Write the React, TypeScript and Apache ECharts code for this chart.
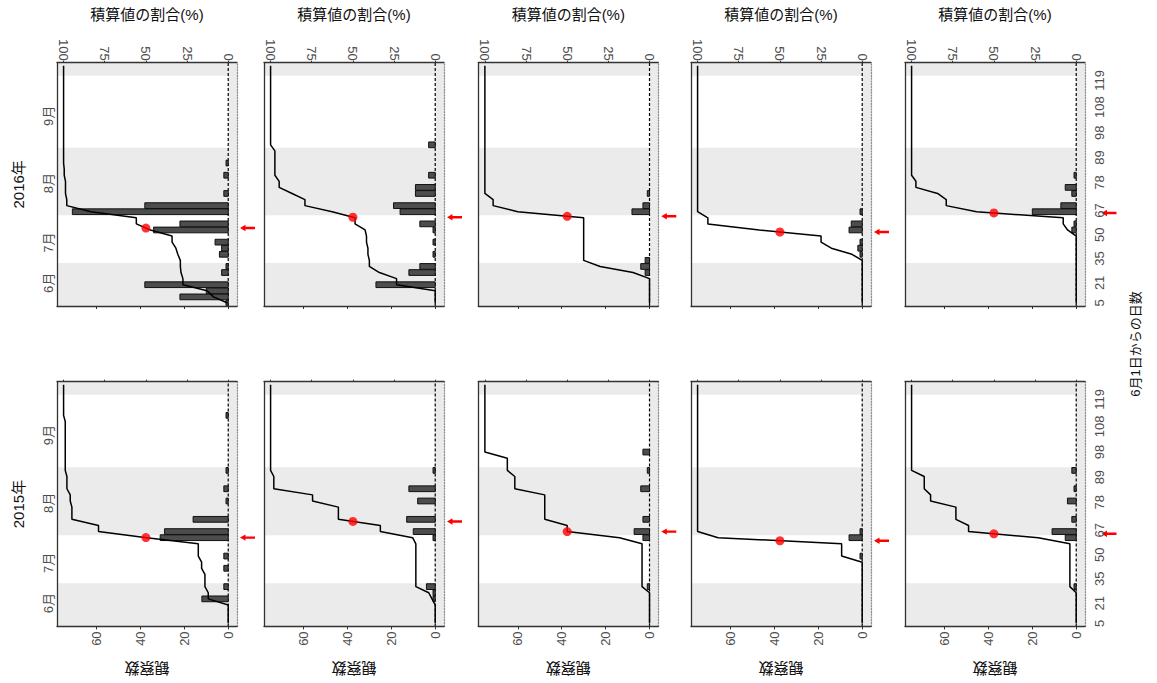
import { useEffect, useRef } from 'react';
import * as echarts from 'echarts';

// Survey sessions (index along the season) and their labels
const SESSION_COUNT = 40;
const dayTickSessions = [1, 4.3, 8.3, 12.2, 16.2, 20.8, 24.9, 29, 33.2, 37.6];
const dayTickLabels = ['5', '21', '35', '50', '67', '78', '89', '98', '108', '119'];
const monthLabels = ['6月', '7月', '8月', '9月'];
const monthSessions = [4.3, 10.9, 20.7, 31.75];
// July and September are drawn on white, June / August / October stay grey
const whiteBands = [
  [7.55, 15.4],
  [26.5, 38.35],
];
const countTicks = [0, 20, 40, 60];
const pctTicks = [0, 25, 50, 75, 100];
const years = ['2016年', '2015年'];

// Observed counts per session (sessions 1..40), five sites per year
const obs2016 = [
  [1, 22, 10, 38, 0, 3, 1, 0, 4, 3, 6, 0, 34, 22, 0, 71, 38, 0, 2, 0, 0, 2, 0, 1, 0, 0, 0, 0, 0, 0, 0, 0, 0, 0, 0, 0, 0, 0, 0, 0],
  [0, 0, 0, 27, 0, 12, 7, 0, 1, 0, 1, 0, 1, 7, 0, 16, 19, 0, 9, 9, 0, 3, 0, 0, 0, 0, 3, 0, 0, 0, 0, 0, 0, 0, 0, 0, 0, 0, 0, 0],
  [0, 0, 0, 0, 0, 2, 4, 2, 0, 0, 0, 0, 0, 0, 0, 8, 3, 0, 1, 0, 0, 0, 0, 0, 0, 0, 0, 0, 0, 0, 0, 0, 0, 0, 0, 0, 0, 0, 0, 0],
  [0, 0, 0, 0, 0, 0, 0, 0, 1, 2, 1, 0, 6, 5, 0, 1, 0, 0, 0, 0, 0, 0, 0, 0, 0, 0, 0, 0, 0, 0, 0, 0, 0, 0, 0, 0, 0, 0, 0, 0],
  [0, 0, 0, 0, 0, 0, 0, 0, 0, 0, 0, 0, 2, 1, 0, 20, 7, 0, 2, 5, 0, 1, 0, 0, 0, 0, 0, 0, 0, 0, 0, 0, 0, 0, 0, 0, 0, 0, 0, 0],
];
const obs2015 = [
  [0, 0, 0, 0, 12, 0, 2, 0, 0, 2, 0, 2, 0, 0, 31, 29, 0, 16, 0, 0, 1, 0, 2, 0, 0, 1, 0, 0, 0, 0, 0, 0, 0, 0, 1, 0, 0, 0, 0, 0],
  [0, 0, 0, 0, 1, 1, 4, 0, 0, 0, 0, 0, 0, 0, 1, 10, 0, 13, 0, 0, 8, 0, 12, 0, 0, 1, 0, 0, 0, 0, 0, 0, 0, 0, 0, 0, 0, 0, 0, 0],
  [0, 0, 0, 0, 0, 0, 1, 0, 0, 0, 0, 0, 0, 0, 3, 7, 0, 3, 0, 0, 0, 0, 4, 0, 0, 1, 0, 0, 3, 0, 0, 0, 0, 0, 0, 0, 0, 0, 0, 0],
  [0, 0, 0, 0, 0, 0, 0, 0, 0, 0, 0, 1, 0, 0, 6, 1, 0, 0, 0, 0, 0, 0, 0, 0, 0, 0, 0, 0, 0, 0, 0, 0, 0, 0, 0, 0, 0, 0, 0, 0],
  [0, 0, 0, 0, 0, 0, 1, 0, 0, 0, 0, 0, 0, 0, 5, 11, 0, 2, 0, 0, 4, 0, 1, 0, 0, 2, 0, 0, 0, 0, 0, 0, 0, 0, 0, 0, 0, 0, 0, 0],
];

// Layout
const FONT = '"Liberation Sans", "Noto Sans CJK JP", sans-serif';
const colLeft = [57, 264, 478.3, 691, 905];
const panelW = 180;
const rowTop = [62.7, 381.7];
const rowH = [243.3, 244.7];
const arrowGap = [3, 3, 3, 3, 16.5];

// Count axis and cumulative-percent axis share one scale: 75 obs = 100 %
const COUNT_MIN = -4;
const COUNT_MAX = 78;
const PCT_PER_COUNT = 100 / 75;

function cumulative(counts: number[]): number[][] {
  const total = counts.reduce((a, b) => a + b, 0);
  let run = 0;
  return counts.map((v, i) => {
    run += v;
    return [(run / total) * 100, i + 1];
  });
}

function halfwaySession(cum: number[][]): number {
  for (let i = 0; i < cum.length; i++) {
    if (cum[i][0] >= 50) {
      if (i === 0) return cum[0][1];
      const [p0, s0] = cum[i - 1];
      const [p1, s1] = cum[i];
      return s0 + ((50 - p0) / (p1 - p0)) * (s1 - s0);
    }
  }
  return cum[cum.length - 1][1];
}

function labelFor(values: number[], labels: string[]) {
  return (v: number) => {
    const i = values.findIndex((m) => Math.abs(m - v) < 1e-6);
    return i >= 0 ? labels[i] : '';
  };
}

function buildOption() {
  const grid: any[] = [];
  const xAxis: any[] = [];
  const yAxis: any[] = [];
  const series: any[] = [];
  const tickColor = '#333333';
  const labelColor = '#4d4d4d';
  const AXIS_Z = 6;

  [obs2016, obs2015].forEach((yearData, r) => {
    yearData.forEach((counts, c) => {
      const g = r * 5 + c;
      grid.push({
        left: colLeft[c],
        top: rowTop[r],
        width: panelW,
        height: rowH[r],
        show: true,
        backgroundColor: '#ebebeb',
        borderWidth: 0,
      });

      // counts axis (drawn along the bottom edge)
      xAxis.push({
        type: 'value',
        gridIndex: g,
        z: AXIS_Z,
        position: 'bottom',
        inverse: true,
        min: COUNT_MIN,
        max: COUNT_MAX,
        axisLine: { show: true, onZero: false, lineStyle: { color: tickColor, width: 1.3 } },
        axisTick: { show: true, customValues: countTicks, length: 3, lineStyle: { color: tickColor } },
        axisLabel: {
          show: r === 1,
          customValues: countTicks,
          rotate: 90,
          margin: 5,
          color: labelColor,
          fontSize: 13,
          fontFamily: FONT,
        },
        splitLine: { show: false },
        name: r === 1 ? '観察数' : '',
        nameLocation: 'middle',
        nameRotate: 180,
        nameGap: 35,
        nameTextStyle: { fontSize: 15, color: '#111', fontFamily: FONT },
      });
      // cumulative share axis (top edge)
      xAxis.push({
        type: 'value',
        gridIndex: g,
        z: AXIS_Z,
        position: 'top',
        inverse: true,
        min: COUNT_MIN * PCT_PER_COUNT,
        max: COUNT_MAX * PCT_PER_COUNT,
        axisLine: { show: true, onZero: false, lineStyle: { color: tickColor, width: 1.3 } },
        axisTick: { show: true, customValues: pctTicks, length: 2, lineStyle: { color: tickColor } },
        axisLabel: {
          show: r === 0,
          customValues: pctTicks,
          rotate: 90,
          margin: 2,
          color: labelColor,
          fontSize: 13,
          fontFamily: FONT,
        },
        splitLine: { show: false },
        name: r === 0 ? '積算値の割合(%)' : '',
        nameLocation: 'middle',
        nameGap: 41,
        nameTextStyle: { fontSize: 15, color: '#111', fontFamily: FONT },
      });
      // session axis, left edge: month labels
      yAxis.push({
        type: 'value',
        gridIndex: g,
        z: AXIS_Z,
        position: 'left',
        min: 0.5,
        max: SESSION_COUNT + 0.5,
        axisLine: { show: true, onZero: false, lineStyle: { color: tickColor, width: 1.3 } },
        axisTick: { show: false },
        axisLabel: {
          show: c === 0,
          customValues: monthSessions,
          rotate: 90,
          margin: 2,
          color: labelColor,
          fontSize: 13,
          fontFamily: FONT,
          formatter: labelFor(monthSessions, monthLabels),
        },
        splitLine: { show: false },
        name: c === 0 ? years[r] : '',
        nameLocation: 'middle',
        nameRotate: 90,
        nameGap: 31,
        nameTextStyle: { fontSize: 15, color: '#111', fontFamily: FONT },
      });
      // session axis, right edge: day labels
      yAxis.push({
        type: 'value',
        gridIndex: g,
        z: AXIS_Z,
        position: 'right',
        min: 0.5,
        max: SESSION_COUNT + 0.5,
        axisLine: { show: true, onZero: false, lineStyle: { color: '#8f8f8f', width: 1.3, type: [1.2, 1.6] } },
        axisTick: { show: false },
        axisLabel: {
          show: c === 4,
          customValues: dayTickSessions,
          rotate: 90,
          margin: 8,
          color: labelColor,
          fontSize: 13,
          fontFamily: FONT,
          formatter: labelFor(dayTickSessions, dayTickLabels),
        },
        splitLine: { show: false },
      });

      const xC = 2 * g;
      const xP = 2 * g + 1;
      const yI = 2 * g;
      const cum = cumulative(counts);
      const mid = halfwaySession(cum);

      // white month bands, from zero up to the far edge
      series.push({
        type: 'custom',
        xAxisIndex: xC,
        yAxisIndex: yI,
        silent: true,
        z: 1,
        data: whiteBands.map((b) => [COUNT_MAX, b[0], b[1]]),
        renderItem: (_p: any, api: any) => {
          const a = api.coord([0, api.value(1)]);
          const b = api.coord([api.value(0), api.value(2)]);
          return {
            type: 'rect',
            shape: {
              x: Math.min(a[0], b[0]),
              y: Math.min(a[1], b[1]),
              width: Math.abs(b[0] - a[0]),
              height: Math.abs(b[1] - a[1]),
            },
            style: { fill: '#ffffff' },
          };
        },
      });
      // dashed zero line
      series.push({
        type: 'line',
        xAxisIndex: xC,
        yAxisIndex: yI,
        silent: true,
        z: 2,
        symbol: 'none',
        data: [
          [0, 0.5],
          [0, SESSION_COUNT + 0.5],
        ],
        lineStyle: { color: '#000', width: 1.2, type: [3, 2] },
      });
      // observation bars
      series.push({
        type: 'custom',
        xAxisIndex: xC,
        yAxisIndex: yI,
        silent: true,
        z: 3,
        data: counts.map((v, i) => [v, i + 1]).filter((d) => d[0] > 0),
        renderItem: (_p: any, api: any) => {
          const a = api.coord([0, api.value(1) - 0.47]);
          const b = api.coord([api.value(0), api.value(1) + 0.47]);
          return {
            type: 'rect',
            shape: {
              x: Math.min(a[0], b[0]),
              y: Math.min(a[1], b[1]),
              width: Math.abs(b[0] - a[0]),
              height: Math.abs(b[1] - a[1]),
            },
            style: { fill: '#4d4d4d', stroke: '#111', lineWidth: 1 },
          };
        },
      });
      // cumulative share line
      series.push({
        type: 'line',
        xAxisIndex: xP,
        yAxisIndex: yI,
        silent: true,
        z: 4,
        symbol: 'none',
        data: cum,
        lineStyle: { color: '#000', width: 1.5 },
      });
      // 50 % point
      series.push({
        type: 'scatter',
        xAxisIndex: xP,
        yAxisIndex: yI,
        silent: true,
        z: 5,
        symbolSize: 9,
        data: [[50, mid]],
        itemStyle: { color: '#ff0000' },
      });
      // arrow beside the panel at the 50 % session
      const gap = arrowGap[c];
      series.push({
        type: 'custom',
        xAxisIndex: xC,
        yAxisIndex: yI,
        silent: true,
        z: 5,
        clip: false,
        data: [[COUNT_MIN, mid]],
        renderItem: (_p: any, api: any) => {
          const p = api.coord([api.value(0), api.value(1)]);
          const x0 = p[0] + gap;
          const y = p[1];
          return {
            type: 'polygon',
            shape: {
              points: [
                [x0, y],
                [x0 + 5.5, y - 3.2],
                [x0 + 5.5, y - 1.2],
                [x0 + 15, y - 1.2],
                [x0 + 15, y + 1.2],
                [x0 + 5.5, y + 1.2],
                [x0 + 5.5, y + 3.2],
              ],
            },
            style: { fill: '#ff0000' },
          };
        },
      });
    });
  });

  return {
    animation: false,
    backgroundColor: '#ffffff',
    grid,
    xAxis,
    yAxis,
    series,
    graphic: [
      {
        type: 'text',
        x: 1135,
        y: 344,
        rotation: Math.PI / 2,
        style: {
          text: '6月1日からの日数',
          fontSize: 13,
          fontFamily: FONT,
          fill: '#111',
          align: 'center',
          verticalAlign: 'middle',
        },
      },
    ],
  };
}

export default function App() {
  const ref = useRef<HTMLDivElement>(null);
  useEffect(() => {
    if (!ref.current) return;
    const chart = echarts.init(ref.current, undefined, { renderer: 'svg' });
    chart.setOption(buildOption());
    return () => chart.dispose();
  }, []);
  return (
    <div
      ref={ref}
      style={{ position: 'absolute', left: 0, top: 0, width: 1157, height: 683, background: '#fff' }}
    />
  );
}
